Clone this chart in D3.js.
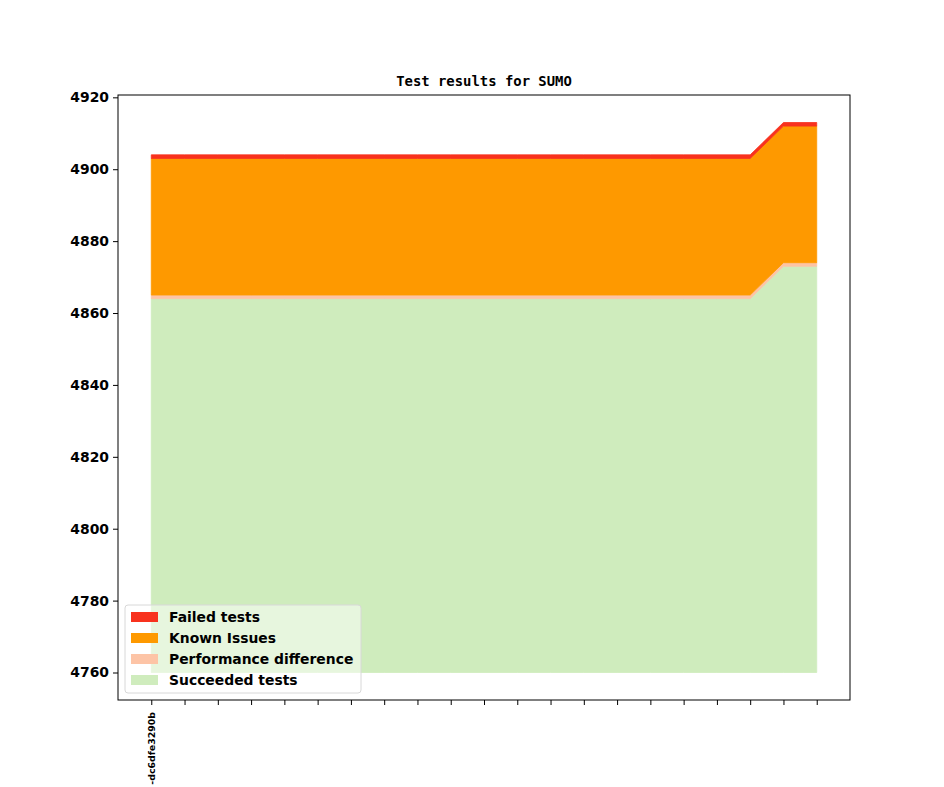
<!DOCTYPE html>
<html>
<head>
<meta charset="utf-8">
<script src="https://cdn.jsdelivr.net/npm/d3@7"></script>
<style>
  body { margin: 0; background: #fff; }
  svg text { font-family: "DejaVu Sans", sans-serif; }
</style>
</head>
<body>
<div id="chart"></div>
<script>
// builds (x positions), only the first one carries a label
const builds = d3.range(21);
const buildLabels = ["-dc6dfe3290b"];
const baseline = 4760;
const succeeded = [4864,4864,4864,4864,4864,4864,4864,4864,4864,4864,4864,4864,4864,4864,4864,4864,4864,4864,4864,4873,4873];
const perfDiff = [1,1,1,1,1,1,1,1,1,1,1,1,1,1,1,1,1,1,1,1,1];
const knownIssues = [38,38,38,38,38,38,38,38,38,38,38,38,38,38,38,38,38,38,38,38,38];
const failed = [1,1,1,1,1,1,1,1,1,1,1,1,1,1,1,1,1,1,1,1,1];
const seriesNames = ["Succeeded tests", "Performance difference", "Known Issues", "Failed tests"];
const seriesColors = ["#cfecbd", "#fdc4a6", "#fe9900", "#f8321e"];
const yTicks = [4760, 4780, 4800, 4820, 4840, 4860, 4880, 4900, 4920];

const width = 944, height = 787;
const margin = { top: 95, right: 94, bottom: 87, left: 118 };

const svg = d3.select("#chart").append("svg")
  .attr("width", width).attr("height", height);

// stack on top of the baseline: first layer is succeeded minus baseline
const rows = builds.map((b, i) => ({
  b: b,
  "Succeeded tests": succeeded[i] - baseline,
  "Performance difference": perfDiff[i],
  "Known Issues": knownIssues[i],
  "Failed tests": failed[i]
}));
const stacked = d3.stack().keys(seriesNames)(rows);

const x = d3.scaleLinear()
  .domain([-1, 21])
  .range([margin.left, width - margin.right]);

const y = d3.scaleLinear()
  .domain([4752.35, 4920.65])
  .range([height - margin.bottom, margin.top]);

const area = d3.area()
  .x(d => x(d.data.b))
  .y0(d => y(baseline + d[0]))
  .y1(d => y(baseline + d[1]));

svg.append("g").selectAll("path")
  .data(stacked)
  .join("path")
  .attr("d", area)
  .attr("fill", (d, i) => seriesColors[i])
  .attr("stroke", (d, i) => seriesColors[i])
  .attr("stroke-width", 0.8);

// frame
svg.append("rect")
  .attr("x", margin.left).attr("y", margin.top)
  .attr("width", width - margin.left - margin.right)
  .attr("height", height - margin.top - margin.bottom)
  .attr("fill", "none").attr("stroke", "#000").attr("stroke-width", 1);

// y axis
const yAxis = svg.append("g")
  .attr("transform", `translate(${margin.left},0)`)
  .call(d3.axisLeft(y).tickValues(yTicks).tickSize(5).tickPadding(4).tickFormat(d3.format("d")));
yAxis.select(".domain").remove();
yAxis.selectAll("text")
  .style("font-family", "'DejaVu Sans', sans-serif")
  .style("font-size", "13.9px").style("font-weight", "bold").attr("fill", "#000");

// x axis
const xAxis = svg.append("g")
  .attr("transform", `translate(0,${height - margin.bottom})`)
  .call(d3.axisBottom(x).tickValues(builds).tickSize(5).tickFormat(d => buildLabels[d] || ""));
xAxis.select(".domain").remove();
xAxis.selectAll("text")
  .style("font-family", "'DejaVu Sans', sans-serif")
  .style("font-size", "9.4px").style("font-weight", "bold").attr("fill", "#000")
  .attr("text-anchor", "end")
  .attr("transform", "rotate(-90)")
  .attr("x", -12).attr("y", 0).attr("dy", "0.35em");

// title
svg.append("text")
  .attr("x", (margin.left + width - margin.right) / 2)
  .attr("y", 86)
  .attr("text-anchor", "middle")
  .style("font-family", "'DejaVu Sans Mono', monospace")
  .style("font-size", "13.9px").style("font-weight", "bold")
  .text("Test results for SUMO");

// legend
const legendNames = seriesNames.slice().reverse();
const legendColors = seriesColors.slice().reverse();
const legend = svg.append("g").attr("transform", "translate(125,605)");
legend.append("rect")
  .attr("width", 236).attr("height", 88).attr("rx", 3)
  .attr("fill", "#fff").attr("fill-opacity", 0.5)
  .attr("stroke", "#d8d8d8").attr("stroke-width", 1);
legendNames.forEach((name, i) => {
  legend.append("rect")
    .attr("x", 6).attr("y", 7 + i * 21)
    .attr("width", 27).attr("height", 10)
    .attr("fill", legendColors[i]);
  legend.append("text")
    .attr("x", 44).attr("y", 12 + i * 21).attr("dy", "0.35em")
    .style("font-size", "13.9px").style("font-weight", "bold")
    .text(name);
});
</script>
</body>
</html>
